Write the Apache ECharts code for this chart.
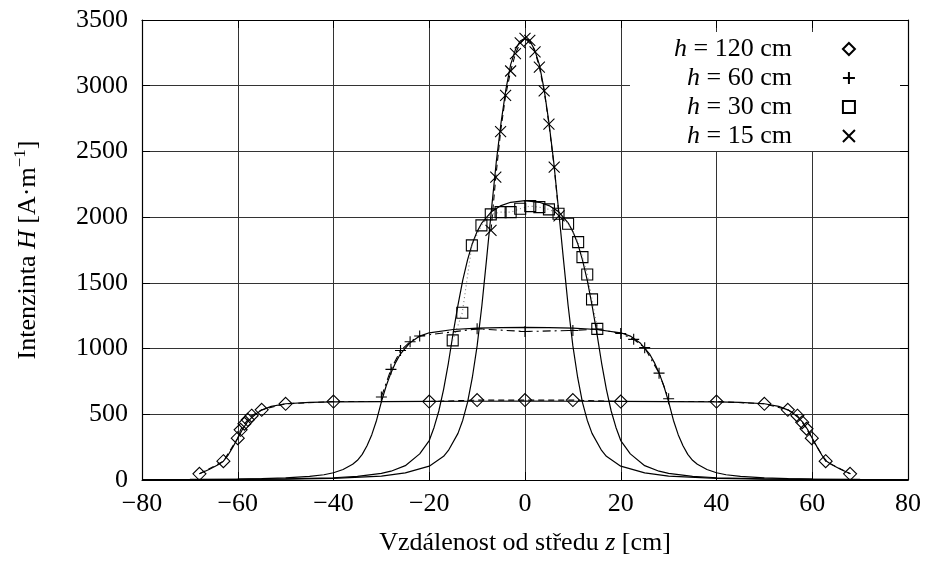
<!DOCTYPE html>
<html>
<head>
<meta charset="utf-8">
<script src="https://cdn.jsdelivr.net/npm/echarts@6/dist/echarts.min.js"></script>
<style>
  html, body { margin: 0; padding: 0; background: #fff; }
  #chart { width: 930px; height: 566px; }
</style>
</head>
<body>
<div id="chart"></div>
<script>
// Measured field intensity H along the coil axis, for four coil lengths h
const z120 = [-68, -63, -60, -59.4, -58.6, -57.9, -57.1, -55, -50, -40, -20, -10, 0, 10, 20, 40, 50, 54.9, 56.9, 57.9, 58.8, 59.9, 62.8, 67.9];
const H120 = [47, 143, 318, 382, 428, 458, 489, 534, 580, 597, 597, 608, 608, 608, 597, 597, 580, 534, 489, 440, 390, 318, 143, 47];

const z60 = [-30, -28, -26, -24, -22, -10, 0, 10, 15, 20, 22.7, 25, 28, 30];
const H60 = [632, 842, 985, 1052, 1096, 1150, 1130, 1138, 1148, 1115, 1070, 1007, 813, 618];

const z30 = [-15.1, -13.1, -11.1, -9.1, -7.15, -5.1, -3, -1, 1.1, 3, 5, 7, 9, 11.1, 12, 13, 14, 15.1];
const H30 = [1062, 1272, 1785, 1937, 2021, 2038, 2038, 2064, 2084, 2076, 2059, 2026, 1950, 1810, 1696, 1564, 1374, 1150];

const z15 = [-7.1, -6.1, -5.1, -4.05, -3, -2, -1, 0, 1, 2.1, 3, 4, 5, 6.1, 7.1];
const H15 = [1899, 2305, 2650, 2926, 3112, 3244, 3326, 3360, 3345, 3258, 3142, 2960, 2708, 2380, 2010];

// Calculated profiles (solid curves)
const th120Z = [-68, -66, -64, -63, -62, -61, -60, -59, -58, -57, -56, -55, -53, -50, -45, -40, -30, -20, -10, 0, 10, 20, 30, 40, 45, 50, 53, 55, 56, 57, 58, 59, 60, 61, 62, 63, 64, 66, 68];
const th120H = [47, 80, 118, 143, 190, 252, 318, 386, 440, 478, 508, 532, 560, 580, 591, 595, 597, 598, 599, 600, 599, 598, 597, 595, 591, 580, 560, 532, 508, 478, 440, 386, 318, 252, 190, 143, 118, 80, 47];

const th60Z = [-80, -70, -60, -55, -50, -45, -42, -40, -38, -36, -35, -34, -33, -32, -31, -30, -29, -28, -27, -26, -24, -22, -20, -15, -10, -5, 0, 5, 10, 15, 20, 22, 24, 26, 27, 28, 29, 30, 31, 32, 33, 34, 35, 36, 38, 40, 42, 45, 50, 55, 60, 70, 80];
const th60H = [2, 4, 7, 10, 16, 27, 40, 55, 80, 120, 150, 195, 260, 345, 455, 595, 715, 815, 895, 960, 1045, 1095, 1120, 1145, 1155, 1160, 1162, 1160, 1155, 1145, 1120, 1095, 1045, 960, 895, 815, 715, 595, 455, 345, 260, 195, 150, 120, 80, 55, 40, 27, 16, 10, 7, 4, 2];

const th30Z = [-80, -70, -60, -50, -40, -35, -30, -28, -25, -22, -20, -19, -18, -17, -16, -15, -14, -13, -12, -11, -10, -9, -7, -5, -3, 0, 3, 5, 7, 9, 10, 11, 12, 13, 14, 15, 16, 17, 18, 19, 20, 22, 25, 28, 30, 35, 40, 50, 60, 70, 80];
const th30H = [2, 3, 4, 8, 17, 28, 50, 67, 109, 199, 300, 400, 525, 690, 890, 1120, 1330, 1520, 1675, 1800, 1890, 1957, 2042, 2088, 2113, 2125, 2113, 2088, 2042, 1957, 1890, 1800, 1675, 1520, 1330, 1120, 890, 690, 525, 400, 300, 199, 109, 67, 50, 28, 17, 8, 4, 3, 2];

const th15Z = [-80, -60, -50, -40, -30, -25, -20, -17, -16, -14, -13, -12, -11, -10, -9, -8, -7, -6, -5, -4, -3, -2, -1, 0, 1, 2, 3, 4, 5, 6, 7, 8, 9, 10, 11, 12, 13, 14, 16, 17, 20, 25, 30, 40, 50, 60, 80];
const th15H = [2, 4, 6, 12, 30, 54, 105, 180, 225, 355, 455, 590, 780, 1020, 1330, 1690, 2060, 2420, 2720, 2970, 3160, 3275, 3340, 3360, 3340, 3275, 3160, 2970, 2720, 2420, 2060, 1690, 1330, 1020, 780, 590, 455, 355, 225, 180, 105, 54, 30, 12, 6, 4, 2];

const seriesNames = ['h = 120 cm', 'h = 60 cm', 'h = 30 cm', 'h = 15 cm'];
const xTicks = { min: -80, max: 80, step: 20 };
const yTicks = { min: 0, max: 3500, step: 500 };

const FONT = '"Liberation Serif", "Times New Roman", serif';
const FS = 26;
const pairs = (xs, ys) => xs.map((x, i) => [x, ys[i]]);
const minus = v => String(v).replace('-', '\u2212');

const PLUS = 'path://M0,5L10,5M5,0L5,10';
const CROSS = 'path://M0,0L10,10M0,10L10,0';

function curve(name, xs, ys) {
  return {
    name, type: 'line', data: pairs(xs, ys), symbol: 'none', silent: true,
    lineStyle: { color: '#000', width: 1.2 }, z: 3
  };
}
function link(name, xs, ys, type, color) {
  return {
    name, type: 'line', data: pairs(xs, ys), symbol: 'none', silent: true,
    lineStyle: { color: color || '#000', width: 1.1, type }, z: 3
  };
}
function marks(name, xs, ys, symbol, size) {
  return {
    name, type: 'scatter', data: pairs(xs, ys), symbol, symbolSize: size,
    itemStyle: { color: 'none', borderColor: '#000', borderWidth: 1.1, opacity: 1 },
    z: 4
  };
}

const chart = echarts.init(document.getElementById('chart'), null, { renderer: 'canvas' });

const axisCommon = {
  type: 'value',
  axisLine: { show: true, lineStyle: { color: '#000', width: 1.2 } },
  axisTick: { show: true, inside: true, length: 8, lineStyle: { color: '#000' } },
  splitLine: { show: false },
  axisLabel: { show: false }
};

chart.setOption({
  animation: false,
  backgroundColor: '#fff',
  textStyle: { fontFamily: FONT },
  grid: { left: 142, right: 22, top: 20, bottom: 86, show: false },
  legend: {
    data: seriesNames,
    orient: 'vertical',
    align: 'right',
    left: 630,
    top: 32,
    itemWidth: 12,
    itemHeight: 12,
    itemGap: 3,
    padding: [4, 50, 2, 44],
    backgroundColor: '#fff',
    selectedMode: false,
    formatter: name => '{i|h}{n|' + name.slice(1) + '}',
    textStyle: {
      fontFamily: FONT, fontSize: FS, color: '#000',
      padding: [0, 46, 0, 0],
      rich: {
        i: { fontFamily: FONT, fontSize: FS, fontStyle: 'italic', lineHeight: 26 },
        n: { fontFamily: FONT, fontSize: FS, lineHeight: 26 }
      }
    }
  },
  xAxis: [
    {
      type: 'value', min: xTicks.min, max: xTicks.max, interval: xTicks.step,
      position: 'bottom',
      axisLine: { show: true, onZero: false, lineStyle: { color: '#000', width: 1.2 } },
      axisTick: { show: true, inside: true, length: 8, lineStyle: { color: '#000' } },
      splitLine: { show: true, lineStyle: { color: '#333', width: 1 } },
      axisLabel: { color: '#000', fontFamily: FONT, fontSize: FS, margin: 11, formatter: minus },
      name: '{n|Vzdálenost od středu }{i|z}{n| [cm]}',
      nameLocation: 'middle',
      nameGap: 50,
      nameTextStyle: {
        rich: {
          n: { fontFamily: FONT, fontSize: FS, color: '#000' },
          i: { fontFamily: FONT, fontSize: FS, color: '#000', fontStyle: 'italic' }
        }
      }
    },
    Object.assign({}, axisCommon, {
      min: xTicks.min, max: xTicks.max, interval: xTicks.step, position: 'top',
      axisLine: { show: true, onZero: false, lineStyle: { color: '#000', width: 1.2 } }
    })
  ],
  yAxis: [
    {
      type: 'value', min: yTicks.min, max: yTicks.max, interval: yTicks.step,
      position: 'left',
      axisLine: { show: true, onZero: false, lineStyle: { color: '#000', width: 1.2 } },
      axisTick: { show: true, inside: true, length: 8, lineStyle: { color: '#000' } },
      splitLine: { show: true, lineStyle: { color: '#333', width: 1 } },
      axisLabel: { color: '#000', fontFamily: FONT, fontSize: FS, margin: 14, formatter: v => String(v) },
      name: '{n|Intenzinta }{i|H}{n| [A·m}{s|\u22121}{n|]}',
      nameLocation: 'middle',
      nameRotate: 90,
      nameGap: 98,
      nameTextStyle: {
        rich: {
          n: { fontFamily: FONT, fontSize: FS, color: '#000', lineHeight: 32 },
          i: { fontFamily: FONT, fontSize: FS, color: '#000', fontStyle: 'italic', lineHeight: 32 },
          s: { fontFamily: FONT, fontSize: 17, color: '#000', verticalAlign: 'top', lineHeight: 32 }
        }
      }
    },
    Object.assign({}, axisCommon, {
      min: yTicks.min, max: yTicks.max, interval: yTicks.step, position: 'right', z: 6,
      axisLine: { show: true, onZero: false, lineStyle: { color: '#000', width: 1.2 } }
    })
  ],
  series: [
    curve('fit120', th120Z, th120H),
    curve('fit60', th60Z, th60H),
    curve('fit30', th30Z, th30H),
    curve('fit15', th15Z, th15H),
    link('data120', z120, H120, [6, 4]),
    link('data60', z60, H60, [8, 4, 2, 4]),
    link('data30', z30, H30, [1, 3], '#777'),
    link('data15', z15, H15, [6, 4]),
    marks(seriesNames[0], z120, H120, 'diamond', 13),
    marks(seriesNames[1], z60, H60, PLUS, 11),
    marks(seriesNames[2], z30, H30, 'rect', 11),
    marks(seriesNames[3], z15, H15, CROSS, 11)
  ]
});
</script>
</body>
</html>
